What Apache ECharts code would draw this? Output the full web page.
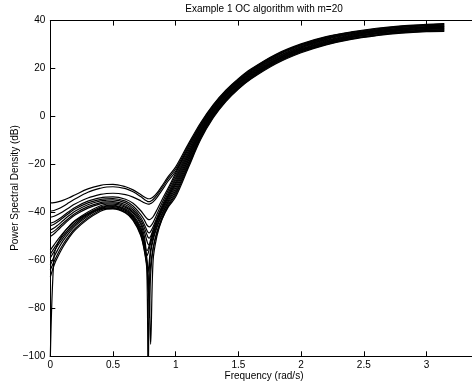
<!DOCTYPE html>
<html><head><meta charset="utf-8">
<script src="https://cdn.jsdelivr.net/npm/echarts@6/dist/echarts.min.js"></script>
<style>html,body{margin:0;padding:0;background:#fff}#c{width:472px;height:391px}</style>
</head><body><div id="c"></div>
<script>
const titleText = 'Example 1 OC algorithm with m=20';
const xName = 'Frequency (rad/s)';
const yName = 'Power Spectral Density (dB)';
const xTicks = [0, 0.5, 1, 1.5, 2, 2.5, 3];
const yTicks = [-100, -80, -60, -40, -20, 0, 20, 40];
const xVisibleMax = 3.363;

const X = [0, 0.03, 0.06, 0.1, 0.15, 0.2, 0.3, 0.4, 0.45, 0.5, 0.6, 0.66, 0.72, 0.75, 0.77, 0.78, 0.79, 0.8, 0.82, 0.85, 0.89, 0.94, 1.0, 1.1, 1.2, 1.3, 1.4, 1.5, 1.6, 1.8, 2.0, 2.2, 2.4, 2.6, 2.8, 3.0, 3.1416];

const c1  = [-36, -35.9, -35.6, -35, -33.9, -32.6, -30.2, -28.7, -28.35, -28.3, -29.3, -30.6, -32.5, -33.6, -34.1, -34.3, -34.3, -34.2, -33.6, -32, -29, -25.1, -21, -11.5, -2.5, 5, 11, 15.8, 19.8, 26, 30.3, 33.3, 35.3, 36.8, 37.8, 38.4, 38.8];
const c2  = [-39.5, -39.2, -38.6, -37.5, -35.9, -34.3, -31.6, -29.9, -29.4, -29.3, -30.1, -31.4, -33.4, -34.6, -35.2, -35.5, -35.5, -35.3, -34.6, -32.8, -29.8, -25.9, -21.9, -12.2, -3, 4.6, 10.7, 15.5, 19.5, 25.7, 30, 33.1, 35.1, 36.6, 37.6, 38.2, 38.6];
const c3  = [-42, -41.6, -40.9, -39.7, -38, -36.4, -34, -32.5, -32.1, -32, -32.6, -33.6, -35.1, -36, -36.4, -36.5, -36.5, -36.3, -35.6, -33.8, -30.8, -26.9, -22.8, -12.9, -3.5, 4.2, 10.3, 15.2, 19.2, 25.4, 29.8, 32.8, 34.9, 36.4, 37.4, 38, 38.3];
const c4  = [-44.5, -44, -43.1, -41.6, -39.6, -37.8, -35.3, -33.9, -33.6, -33.5, -34.5, -36.2, -39.2, -41.2, -42.5, -42.9, -43, -42.8, -41.8, -39, -34.8, -29.8, -23.6, -13.6, -4, 3.8, 10, 14.9, 18.9, 25.2, 29.5, 32.6, 34.6, 36.1, 37.2, 37.8, 38.1];
const c5  = [-45.5, -44.9, -43.9, -42.3, -40.3, -38.5, -36, -34.6, -34.3, -34.2, -35.3, -37.3, -40.8, -43.2, -45.2, -45.8, -46, -45.7, -44.2, -40.8, -36.2, -30.8, -24.6, -14.4, -4.5, 3.4, 9.6, 14.5, 18.6, 24.8, 29.2, 32.3, 34.4, 35.9, 36.9, 37.5, 37.8];
const c6  = [-47.3, -46.5, -45.3, -43.5, -41.3, -39.4, -36.8, -35.2, -34.9, -34.8, -36, -38.2, -42, -45, -47.4, -48.3, -48.5, -48, -46, -42.2, -37.4, -31.9, -25.5, -15.1, -5, 3, 9.3, 14.2, 18.3, 24.6, 29, 32.1, 34.2, 35.7, 36.7, 37.3, 37.6];
const c7  = [-48.7, -47.8, -46.5, -44.6, -42.3, -40.3, -37.6, -35.9, -35.6, -35.5, -36.8, -39, -43, -46.4, -49.2, -50.4, -50.7, -50, -47.4, -43, -38, -32.7, -26.4, -15.8, -5.5, 2.6, 8.9, 13.9, 18, 24.3, 28.7, 31.8, 34, 35.5, 36.5, 37.1, 37.4];
const c8  = [-50, -48.9, -47.4, -45.4, -43, -41, -38.2, -36.4, -36.1, -36, -37.4, -39.7, -44, -48, -51.8, -53.3, -53.6, -52.5, -49.2, -44.3, -39, -33.4, -27.3, -16.5, -6, 2.3, 8.6, 13.6, 17.7, 24, 28.5, 31.6, 33.8, 35.3, 36.3, 36.9, 37.2];
const c9  = [-55.7, -53.5, -51.3, -48.7, -45.8, -43.3, -39.8, -37.2, -36.6, -36.5, -37.9, -40.2, -44.8, -50, -56, -55.3, -53.5, -51.3, -47.5, -43.3, -38.8, -33.8, -28.1, -17.2, -6.5, 1.9, 8.3, 13.3, 17.4, 23.7, 28.2, 31.4, 33.5, 35, 36.1, 36.7, 36.9];
const c10 = [-57.4, -55, -52.7, -49.9, -46.8, -44.2, -40.5, -37.8, -37.1, -37, -38.5, -41, -46, -52, -58, -57, -55, -52.8, -48.8, -44.3, -39.6, -34.5, -29, -17.9, -7, 1.5, 7.9, 13, 17.1, 23.4, 27.9, 31.1, 33.3, 34.8, 35.9, 36.5, 36.7];
const c11 = [-59, -56.3, -53.8, -50.8, -47.6, -44.9, -41, -38.2, -37.4, -37.3, -38.9, -41.5, -46.8, -52.5, -59, -65, -60, -55.5, -50.5, -45.5, -40.5, -35.2, -29.9, -18.6, -7.5, 1.1, 7.6, 12.7, 16.8, 23.2, 27.7, 30.9, 33.1, 34.6, 35.7, 36.3, 36.5];
const c12 = [-62, -58.5, -55.5, -52, -48.5, -45.6, -41.5, -38.5, -37.7, -37.6, -39.2, -42, -47.5, -53.5, -61, -73, -63, -57, -51.5, -46.3, -41.2, -35.9, -30.9, -19.4, -8, 0.7, 7.2, 12.3, 16.5, 22.8, 27.4, 30.6, 32.9, 34.4, 35.4, 36, 36.2];
const c13 = [-64, -60.5, -57.2, -53.5, -49.7, -46.6, -42.2, -39, -38.1, -38, -39.6, -42.5, -48.3, -54.5, -61, -67, -84, -66, -55, -48, -42.2, -36.7, -31.8, -20.1, -8.5, 0.3, 6.9, 12, 16.2, 22.6, 27.1, 30.4, 32.6, 34.1, 35.2, 35.8, 36];
const c14 = [-101, -58, -53, -49, -45.8, -43.5, -40.5, -38.6, -38.3, -38.3, -40, -43, -49, -55.5, -62, -68, -76, -95, -60, -50, -43, -37.3, -32.6, -20.8, -9, -0.1, 6.5, 11.7, 15.9, 22.3, 26.9, 30.1, 32.4, 33.9, 35, 35.6, 35.7];
const c15 = [-67, -62, -58.5, -54.5, -50.5, -47.3, -42.8, -39.5, -38.6, -38.5, -40.2, -43.3, -49.5, -56, -64, -110, -70, -62, -55, -48.8, -43, -37.8, -33.5, -21.5, -9.5, -0.5, 6.2, 11.4, 15.6, 22, 26.6, 29.9, 32.2, 33.7, 34.8, 35.4, 35.5];

const curves = [c1, c2, c3, c4, c5, c6, c7, c8, c9, c10, c11, c12, c13, c14, c15];

const FONT = 'Liberation Sans, Arial, Helvetica, sans-serif';
const minus = v => String(v).replace('-', '\u2212');
const xLabel = v => (xTicks.some(t => Math.abs(t - v) < 1e-9) ? minus(v) : '');

const chart = echarts.init(document.getElementById('c'), null, {renderer: 'canvas'});
const yMin = yTicks[0], yMax = yTicks[yTicks.length - 1];
const axisLineStyle = {color: '#000', width: 1};
const tickStyle = {show: true, inside: true, length: 5, lineStyle: {color: '#000', width: 1}};
chart.setOption({
  animation: false,
  backgroundColor: '#fff',
  grid: {left: 50.3, top: 20.6, right: 0, bottom: 34.7, containLabel: false},
  xAxis: [
    {type: 'value', min: xTicks[0], max: xVisibleMax, interval: 0.5, position: 'bottom',
      axisLine: {show: true, onZero: false, lineStyle: axisLineStyle}, axisTick: tickStyle, splitLine: {show: false},
      axisLabel: {color: '#000', fontSize: 10, fontFamily: FONT, margin: 4, formatter: xLabel, showMaxLabel: false}},
    {type: 'value', min: xTicks[0], max: xVisibleMax, interval: 0.5, position: 'top',
      axisLine: {show: true, onZero: false, lineStyle: axisLineStyle}, axisTick: tickStyle, splitLine: {show: false},
      axisLabel: {show: false}}
  ],
  yAxis: [
    {type: 'value', min: yMin, max: yMax, interval: 20, position: 'left',
      axisLine: {show: true, onZero: false, lineStyle: axisLineStyle}, axisTick: tickStyle, splitLine: {show: false},
      axisLabel: {color: '#000', fontSize: 10, fontFamily: FONT, margin: 5, formatter: v => minus(v)}}
  ],
  graphic: [
    {type: 'text', silent: true, x: 264, y: 9,
      style: {text: titleText, fill: '#000', font: '10px ' + FONT, align: 'center', verticalAlign: 'middle'}},
    {type: 'text', silent: true, x: 264, y: 376,
      style: {text: xName, fill: '#000', font: '10px ' + FONT, align: 'center', verticalAlign: 'middle'}},
    {type: 'text', silent: true, x: 15, y: 188, rotation: Math.PI / 2,
      style: {text: yName, fill: '#000', font: '10px ' + FONT, align: 'center', verticalAlign: 'middle'}}
  ],
  series: curves.map(c => ({
    type: 'line',
    xAxisIndex: 0, yAxisIndex: 0,
    data: X.map((x, i) => [x, c[i]]),
    showSymbol: false,
    smooth: 0.35,
    clip: true,
    lineStyle: {color: '#000', width: 1.2},
    emphasis: {disabled: true}
  }))
});
</script>
</body></html>
